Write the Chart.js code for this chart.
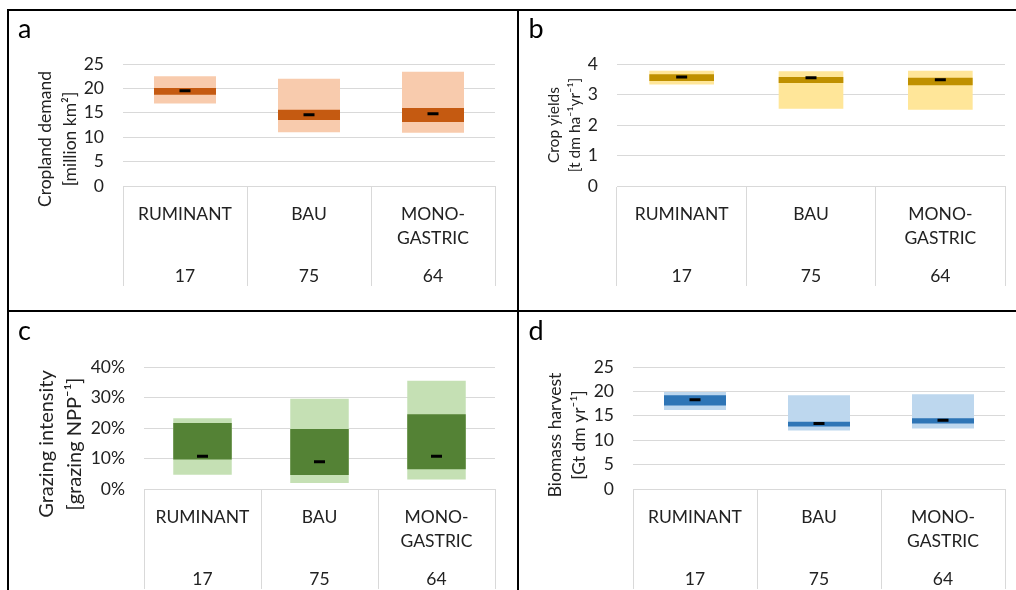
<!DOCTYPE html>
<html><head><meta charset="utf-8">
<script src="https://cdn.jsdelivr.net/npm/chart.js@4"></script>
<style>
html,body{margin:0;padding:0;background:#fff;}
body{width:1016px;height:590px;overflow:hidden;position:relative;}
.ln{position:absolute;background:#000;}
canvas{position:absolute;}
</style></head><body>
<div class="ln" style="left:7px;top:9px;width:1009px;height:2px"></div>
<div class="ln" style="left:7px;top:9px;width:2px;height:581px"></div>
<div class="ln" style="left:517px;top:9px;width:2px;height:581px"></div>
<div class="ln" style="left:7px;top:310px;width:1009px;height:2px"></div>
<canvas id="ca" width="508" height="299" style="left:9px;top:11px"></canvas>
<canvas id="cb" width="497" height="299" style="left:519px;top:11px"></canvas>
<canvas id="cc" width="508" height="278" style="left:9px;top:312px"></canvas>
<canvas id="cd" width="497" height="278" style="left:519px;top:312px"></canvas>
<script>
// ---- data ----
const categories = [["RUMINANT"], ["BAU"], ["MONO-", "GASTRIC"]];
const sampleCounts = ["17", "75", "64"];

// a: cropland demand [million km2]
const cropMin = [16.9, 11.0, 10.9];
const cropQ1  = [18.7, 13.5, 13.1];
const cropMed = [19.5, 14.6, 14.8];
const cropQ3  = [20.1, 15.6, 16.0];
const cropMax = [22.5, 22.0, 23.4];
const cropTicks = [0, 5, 10, 15, 20, 25];

// b: crop yields [t dm ha-1 yr-1]
const yieldMin = [3.33, 2.53, 2.50];
const yieldQ1  = [3.44, 3.38, 3.30];
const yieldMed = [3.57, 3.55, 3.48];
const yieldQ3  = [3.66, 3.57, 3.55];
const yieldMax = [3.78, 3.76, 3.78];
const yieldTicks = [0, 1, 2, 3, 4];

// c: grazing intensity [grazing NPP-1]
const grazMin = [0.047, 0.020, 0.031];
const grazQ1  = [0.097, 0.046, 0.065];
const grazMed = [0.107, 0.089, 0.107];
const grazQ3  = [0.216, 0.197, 0.245];
const grazMax = [0.232, 0.296, 0.355];
const grazTicks = [0, 0.1, 0.2, 0.3, 0.4];

// d: biomass harvest [Gt dm yr-1]
const bioMin = [16.2, 12.0, 12.4];
const bioQ1  = [17.1, 12.8, 13.4];
const bioMed = [18.3, 13.4, 14.1];
const bioQ3  = [19.2, 13.8, 14.5];
const bioMax = [19.9, 19.2, 19.4];
const bioTicks = [0, 5, 10, 15, 20, 25];

const FONT = "Lato, 'DejaVu Sans', sans-serif";
const TEXT = '#222222';
const GRID = '#D9D9D9';

const pairs = (lo, hi) => lo.map((v, i) => [v, hi[i]]);

const decorPlugin = {
  id: 'decor',
  afterDraw(chart, args, o) {
    const ctx = chart.ctx, ca = chart.chartArea;
    ctx.save();
    ctx.fillStyle = '#000';
    ctx.font = '27px ' + FONT;
    ctx.textAlign = 'left';
    ctx.textBaseline = 'alphabetic';
    ctx.fillText(o.letter, o.letterX, o.letterY);
    ctx.fillStyle = TEXT;
    ctx.font = o.titleSize + 'px ' + FONT;
    ctx.textAlign = 'center';
    ctx.textBaseline = 'middle';
    const cy = (ca.top + ca.bottom) / 2 + o.titleDy;
    o.titleLines.forEach((t, i) => {
      ctx.save();
      ctx.translate(o.titleXs[i], cy);
      ctx.rotate(-Math.PI / 2);
      ctx.fillText(t, 0, 0);
      ctx.restore();
    });
    ctx.restore();
  }
};

function makePanel(id, p) {
  new Chart(document.getElementById(id), {
    type: 'bar',
    data: {
      labels: categories.map(c => c.join(' ')),
      datasets: [
        { type: 'line', data: p.med, showLine: false, pointStyle: 'line',
          pointRadius: 5.5, pointBorderWidth: 3, pointBorderColor: '#000',
          pointBackgroundColor: '#000', order: 0 },
        { data: pairs(p.q1, p.q3), backgroundColor: p.dark, grouped: false,
          barPercentage: 0.5, categoryPercentage: 1, order: 1 },
        { data: pairs(p.min, p.max), backgroundColor: p.light, grouped: false,
          barPercentage: 0.5, categoryPercentage: 1, order: 2 }
      ]
    },
    options: {
      responsive: false, animation: false, events: [],
      layout: { padding: p.pad },
      plugins: { legend: { display: false }, tooltip: { enabled: false }, decor: p.decor },
      scales: {
        x: {
          afterFit: s => { s.height = 100; },
          border: { display: true, color: GRID, width: 1 },
          grid: { offset: true, drawOnChartArea: false, drawTicks: true, tickLength: 100, tickColor: GRID, tickWidth: 1 },
          ticks: {
            autoSkip: false, maxRotation: 0, padding: -78.2, color: TEXT,
            font: { family: FONT, size: 17.5, lineHeight: '12.4px' },
            callback: (v, i) => {
              const c = categories[i];
              return [c[0], '', c[1] || '', '', '', sampleCounts[i]];
            }
          }
        },
        y: {
          min: p.ticks[0], max: p.ticks[p.ticks.length - 1],
          afterFit: s => { s.width = p.yWidth; },
          afterBuildTicks: s => { s.ticks = p.ticks.map(v => ({ value: v })); },
          border: { display: false },
          grid: { color: GRID, lineWidth: 1, drawTicks: false },
          ticks: { padding: 19, color: TEXT, font: { family: FONT, size: 17.5 },
                   callback: p.fmt || (v => String(v)) }
        }
      }
    },
    plugins: [decorPlugin]
  });
}

makePanel('ca', {
  min: cropMin, q1: cropQ1, med: cropMed, q3: cropQ3, max: cropMax, ticks: cropTicks,
  light: '#F8CBAD', dark: '#C55A11', yWidth: 114,
  pad: { top: 53, right: 22, bottom: 24, left: 0 },
  decor: { letter: 'a', letterX: 9, letterY: 27, titleSize: 17.5, titleDy: 14,
           titleLines: ['Cropland demand', '[million km²]'], titleXs: [36.7, 61] }
});
makePanel('cb', {
  min: yieldMin, q1: yieldQ1, med: yieldMed, q3: yieldQ3, max: yieldMax, ticks: yieldTicks,
  light: '#FFE699', dark: '#BF9000', yWidth: 98,
  pad: { top: 53, right: 11, bottom: 24, left: 0 },
  decor: { letter: 'b', letterX: 9.5, letterY: 27, titleSize: 15.5, titleDy: 0,
           titleLines: ['Crop yields', '[t dm ha⁻¹yr⁻¹]'], titleXs: [35, 55.7] }
});
makePanel('cc', {
  min: grazMin, q1: grazQ1, med: grazMed, q3: grazQ3, max: grazMax, ticks: grazTicks,
  light: '#C5E0B4', dark: '#548235', yWidth: 135,
  fmt: v => Math.round(v * 100) + '%',
  pad: { top: 55, right: 22, bottom: 1, left: 0 },
  decor: { letter: 'c', letterX: 9, letterY: 28, titleSize: 20, titleDy: 16,
           titleLines: ['Grazing intensity', '[grazing NPP⁻¹]'], titleXs: [37.7, 66] }
});
makePanel('cd', {
  min: bioMin, q1: bioQ1, med: bioMed, q3: bioQ3, max: bioMax, ticks: bioTicks,
  light: '#BDD7EE', dark: '#2E75B6', yWidth: 114,
  pad: { top: 55, right: 11, bottom: 1, left: 0 },
  decor: { letter: 'd', letterX: 9.5, letterY: 28, titleSize: 17.5, titleDy: 7,
           titleLines: ['Biomass harvest', '[Gt dm yr⁻¹]'], titleXs: [36.3, 60.7] }
});
</script>
</body></html>
